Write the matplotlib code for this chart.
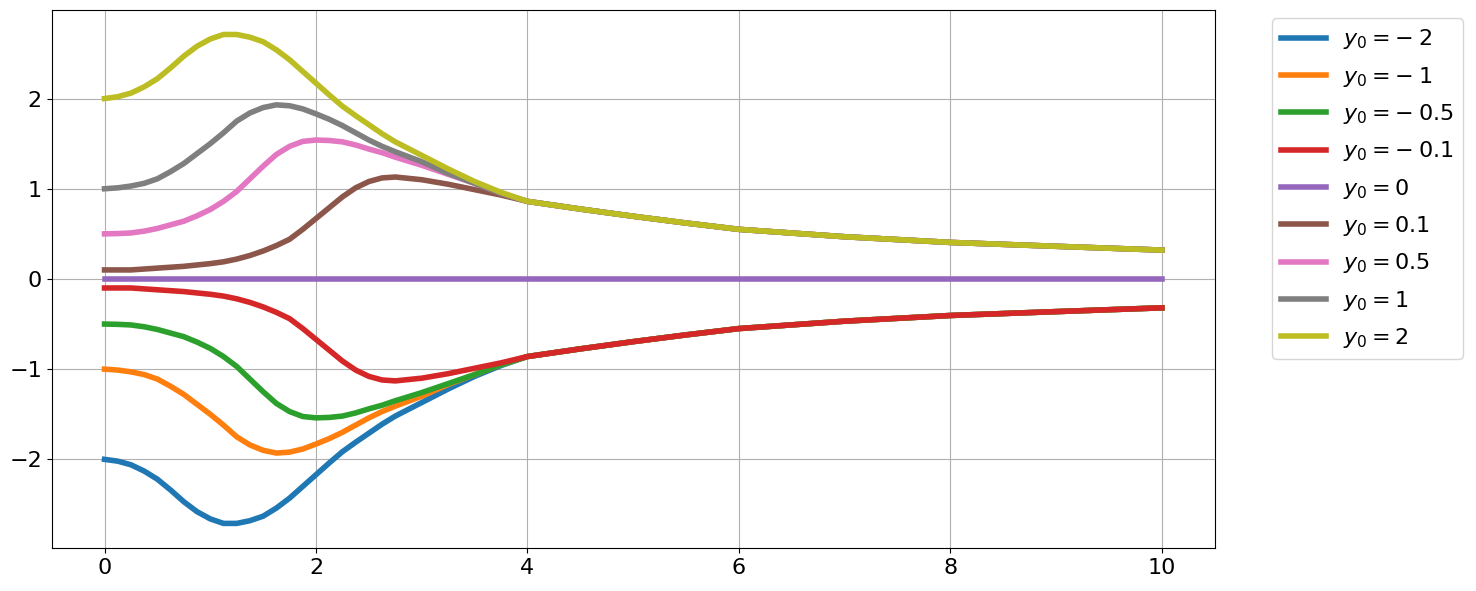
import matplotlib
matplotlib.use("Agg")
from matplotlib import pyplot as plt

# time points
t = [0, 0.125, 0.25, 0.375, 0.5, 0.625, 0.75, 0.875, 1.0, 1.125, 1.25, 1.375,
     1.5, 1.625, 1.75, 1.875, 2.0, 2.125, 2.25, 2.375, 2.5, 2.625, 2.75,
     3.0, 3.25, 3.5, 3.75, 4.0, 4.5, 5.0, 5.5, 6.0, 7.0, 8.0, 9.0, 10.0]

# initial values, in legend order
y0_values = [-2, -1, -0.5, -0.1, 0, 0.1, 0.5, 1, 2]

# estimated curves for each y0
y_p2 = [2.00, 2.02, 2.06, 2.13, 2.22, 2.34, 2.47, 2.58, 2.66, 2.71, 2.71, 2.68,
        2.63, 2.54, 2.43, 2.30, 2.17, 2.04, 1.915, 1.81, 1.71, 1.61, 1.52,
        1.37, 1.22, 1.08, 0.96, 0.86, 0.775, 0.695, 0.62, 0.55, 0.468, 0.405, 0.362, 0.32]
y_p1 = [1.00, 1.01, 1.03, 1.06, 1.11, 1.19, 1.28, 1.39, 1.50, 1.62, 1.75, 1.84,
        1.90, 1.93, 1.92, 1.885, 1.83, 1.77, 1.70, 1.62, 1.54, 1.47, 1.41,
        1.30, 1.17, 1.06, 0.95, 0.86, 0.775, 0.695, 0.62, 0.55, 0.468, 0.405, 0.362, 0.32]
y_p05 = [0.50, 0.503, 0.51, 0.53, 0.56, 0.60, 0.64, 0.70, 0.77, 0.86, 0.97, 1.11,
         1.25, 1.38, 1.47, 1.525, 1.54, 1.535, 1.52, 1.485, 1.44, 1.40, 1.35,
         1.26, 1.16, 1.06, 0.95, 0.86, 0.775, 0.695, 0.62, 0.55, 0.468, 0.405, 0.362, 0.32]
y_p01 = [0.10, 0.10, 0.10, 0.11, 0.12, 0.13, 0.14, 0.155, 0.17, 0.19, 0.22, 0.26,
         0.31, 0.37, 0.44, 0.55, 0.67, 0.79, 0.91, 1.01, 1.08, 1.12, 1.13,
         1.10, 1.05, 0.99, 0.93, 0.86, 0.775, 0.695, 0.62, 0.55, 0.468, 0.405, 0.362, 0.32]
y_0 = [0.0] * 36
y_m01 = [-0.10, -0.10, -0.10, -0.11, -0.12, -0.13, -0.14, -0.155, -0.17, -0.19, -0.22, -0.26,
         -0.31, -0.37, -0.44, -0.55, -0.67, -0.79, -0.91, -1.01, -1.08, -1.12, -1.13,
         -1.10, -1.05, -0.99, -0.93, -0.86, -0.775, -0.695, -0.62, -0.55, -0.468, -0.405, -0.362, -0.32]
y_m05 = [-0.50, -0.503, -0.51, -0.53, -0.56, -0.60, -0.64, -0.70, -0.77, -0.86, -0.97, -1.11,
         -1.25, -1.38, -1.47, -1.525, -1.54, -1.535, -1.52, -1.485, -1.44, -1.40, -1.35,
         -1.26, -1.16, -1.06, -0.95, -0.86, -0.775, -0.695, -0.62, -0.55, -0.468, -0.405, -0.362, -0.32]
y_m1 = [-1.00, -1.01, -1.03, -1.06, -1.11, -1.19, -1.28, -1.39, -1.50, -1.62, -1.75, -1.84,
        -1.90, -1.93, -1.92, -1.885, -1.83, -1.77, -1.70, -1.62, -1.54, -1.47, -1.41,
        -1.30, -1.17, -1.06, -0.95, -0.86, -0.775, -0.695, -0.62, -0.55, -0.468, -0.405, -0.362, -0.32]
y_m2 = [-2.00, -2.02, -2.06, -2.13, -2.22, -2.34, -2.47, -2.58, -2.66, -2.71, -2.71, -2.68,
        -2.63, -2.54, -2.43, -2.30, -2.17, -2.04, -1.915, -1.81, -1.71, -1.61, -1.52,
        -1.37, -1.22, -1.08, -0.96, -0.86, -0.775, -0.695, -0.62, -0.55, -0.468, -0.405, -0.362, -0.32]

curves = [y_m2, y_m1, y_m05, y_m01, y_0, y_p01, y_p05, y_p1, y_p2]


def label_for(y0):
    # old-style mathtext spacing around the minus sign
    if y0 < 0:
        return rf'$y_0 = -\:{-y0}$'
    return rf'$y_0 = {y0}$'


fig = plt.figure(figsize=(14.76, 5.91), dpi=100)
ax = fig.add_axes([0.035, 0.073, 0.788, 0.910])

for y0, ys in zip(y0_values, curves):
    ax.plot(t, ys, linewidth=4, label=label_for(y0))

ax.tick_params(labelsize=16)
ax.grid(True)
ax.legend(bbox_to_anchor=(1.04, 1.005), loc='upper left', fontsize=16,
          labelspacing=0.6)

plt.savefig('out.png', dpi=100)
plt.close()
